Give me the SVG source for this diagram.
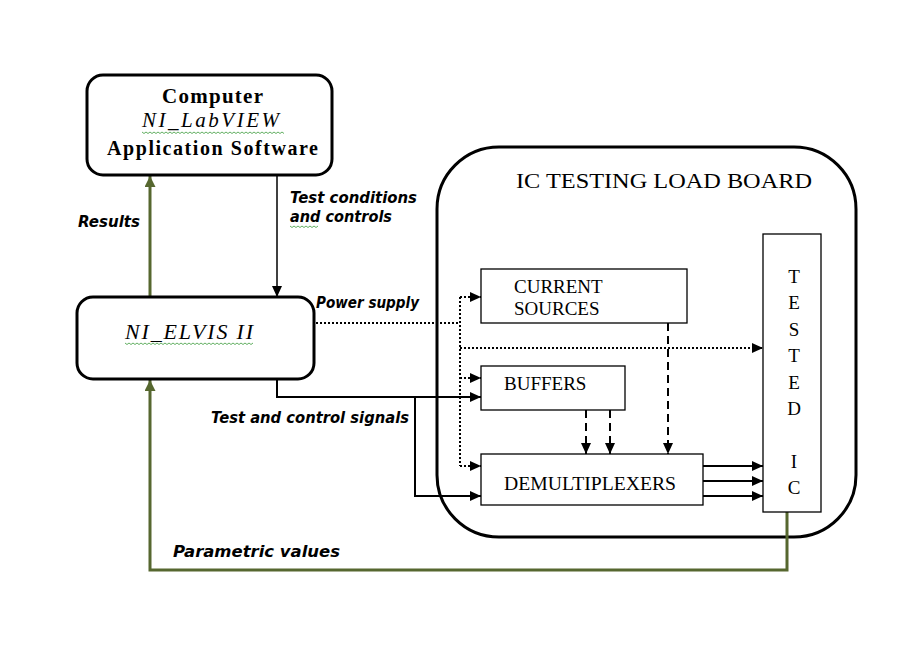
<svg xmlns="http://www.w3.org/2000/svg" width="903" height="652" viewBox="0 0 903 652">
<style>
.box{fill:#fff;stroke:#000;stroke-width:3}
.rect{fill:#fff;stroke:#000;stroke-width:1.3}
.serif{font-family:"Liberation Serif","Times New Roman",serif;fill:#000}
.lbl{font-family:"DejaVu Sans",Verdana,sans-serif;font-weight:bold;font-style:italic;fill:#000}
.solid{fill:none;stroke:#000;stroke-width:2}
.thin{fill:none;stroke:#000;stroke-width:1.5}
.dot{fill:none;stroke:#000;stroke-width:2;stroke-dasharray:2 2}
.dash{fill:none;stroke:#000;stroke-width:2;stroke-dasharray:8 5}
.green{fill:none;stroke:#56672f;stroke-width:3}
.sq{fill:none;stroke:#3a9a3a;stroke-width:0.8}
</style>
<defs>
<marker id="ab" markerUnits="userSpaceOnUse" markerWidth="11" markerHeight="10" refX="11" refY="5" orient="auto"><path d="M0,0 L11,5 L0,10 z" fill="#000"/></marker>
<marker id="ag" markerUnits="userSpaceOnUse" markerWidth="11" markerHeight="11" refX="11" refY="5.5" orient="auto"><path d="M0,0 L11,5.5 L0,11 z" fill="#56672f"/></marker>
</defs>
<rect width="903" height="652" fill="#fff"/>

<g id="load-board">
<rect x="437" y="147" width="419" height="390" rx="62" ry="62" fill="#fff" stroke="#000" stroke-width="3"/>
<text class="serif" x="516" y="188" font-size="21" textLength="296" lengthAdjust="spacingAndGlyphs">IC TESTING LOAD BOARD</text>
</g>

<g id="connectors">
<path class="green" d="M150,297 L150,176" marker-end="url(#ag)"/>
<path class="thin" d="M277,175 L277,297" marker-end="url(#ab)"/>
<path class="dot" d="M316,323 L460,323"/>
<path class="dot" d="M460,297 L460,466"/>
<path class="dot" d="M460,297 L481,297" marker-end="url(#ab)"/>
<path class="dot" d="M460,348 L763,348" marker-end="url(#ab)"/>
<path class="dot" d="M460,378 L481,378" marker-end="url(#ab)"/>
<path class="dot" d="M460,466 L481,466" marker-end="url(#ab)"/>
<path class="solid" d="M277,379 L277,397 L481,397" marker-end="url(#ab)"/>
<path class="solid" d="M415,397 L415,496 L481,496" marker-end="url(#ab)"/>
<path class="dash" d="M668,323 L668,454" marker-end="url(#ab)"/>
<path class="dash" d="M586,410 L586,454" marker-end="url(#ab)"/>
<path class="dash" d="M610,410 L610,454" marker-end="url(#ab)"/>
<path class="solid" d="M703,466 L763,466" marker-end="url(#ab)"/>
<path class="solid" d="M703,481 L763,481" marker-end="url(#ab)"/>
<path class="solid" d="M703,496 L763,496" marker-end="url(#ab)"/>
<path class="green" d="M787,512 L787,570 L150,570 L150,380" marker-end="url(#ag)"/>
<text class="lbl" x="78" y="227" font-size="15" textLength="62" lengthAdjust="spacingAndGlyphs">Results</text>
<text class="lbl" x="290" y="203" font-size="15" textLength="127" lengthAdjust="spacingAndGlyphs">Test conditions</text>
<text class="lbl" x="290" y="222" font-size="15" textLength="102" lengthAdjust="spacingAndGlyphs">and controls</text>
<path class="sq" d="M290,226 l2,1.5 l2,-1.5 l2,1.5 l2,-1.5 l2,1.5 l2,-1.5 l2,1.5 l2,-1.5 l2,1.5 l2,-1.5 l2,1.5 l2,-1.5 l2,1.5 l2,-1.5"/>
<text class="lbl" x="316" y="308" font-size="15" textLength="103" lengthAdjust="spacingAndGlyphs">Power supply</text>
<text class="lbl" x="211" y="423" font-size="15" textLength="198" lengthAdjust="spacingAndGlyphs">Test and control signals</text>
<text class="lbl" x="173" y="557" font-size="16" textLength="167" lengthAdjust="spacingAndGlyphs">Parametric values</text>
</g>

<g id="computer">
<rect class="box" x="87" y="75" width="245" height="100" rx="16" ry="16"/>
<text class="serif" x="162" y="103" font-size="21" font-weight="bold" textLength="101" lengthAdjust="spacing">Computer</text>
<text class="serif" x="142" y="127" font-size="21" font-style="italic" textLength="137" lengthAdjust="spacing">NI_LabVIEW</text>
<path class="sq" d="M142,132 l2,1.5 l2,-1.5 l2,1.5 l2,-1.5 l2,1.5 l2,-1.5 l2,1.5 l2,-1.5 l2,1.5 l2,-1.5 l2,1.5 l2,-1.5 l2,1.5 l2,-1.5 l2,1.5 l2,-1.5 l2,1.5 l2,-1.5 l2,1.5 l2,-1.5 l2,1.5 l2,-1.5 l2,1.5 l2,-1.5 l2,1.5 l2,-1.5 l2,1.5 l2,-1.5 l2,1.5 l2,-1.5 l2,1.5 l2,-1.5 l2,1.5 l2,-1.5 l2,1.5 l2,-1.5 l2,1.5 l2,-1.5 l2,1.5 l2,-1.5 l2,1.5 l2,-1.5 l2,1.5 l2,-1.5 l2,1.5 l2,-1.5 l2,1.5 l2,-1.5 l2,1.5 l2,-1.5 l2,1.5 l2,-1.5 l2,1.5 l2,-1.5 l2,1.5 l2,-1.5 l2,1.5 l2,-1.5 l2,1.5 l2,-1.5 l2,1.5 l2,-1.5 l2,1.5 l2,-1.5 l2,1.5 l2,-1.5 l2,1.5 l2,-1.5 l2,1.5 l2,-1.5 l2,1.5"/>
<text class="serif" x="107" y="155" font-size="20" font-weight="bold" textLength="211" lengthAdjust="spacing">Application Software</text>
</g>

<g id="ni-elvis">
<rect class="box" x="77" y="297" width="237" height="82" rx="16" ry="16"/>
<text class="serif" x="125" y="339" font-size="22" font-style="italic" textLength="128" lengthAdjust="spacing">NI_ELVIS II</text>
<path class="sq" d="M125,343 l2,1.5 l2,-1.5 l2,1.5 l2,-1.5 l2,1.5 l2,-1.5 l2,1.5 l2,-1.5 l2,1.5 l2,-1.5 l2,1.5 l2,-1.5 l2,1.5 l2,-1.5 l2,1.5 l2,-1.5 l2,1.5 l2,-1.5 l2,1.5 l2,-1.5 l2,1.5 l2,-1.5 l2,1.5 l2,-1.5 l2,1.5 l2,-1.5 l2,1.5 l2,-1.5 l2,1.5 l2,-1.5 l2,1.5 l2,-1.5 l2,1.5 l2,-1.5 l2,1.5 l2,-1.5 l2,1.5 l2,-1.5 l2,1.5 l2,-1.5 l2,1.5 l2,-1.5 l2,1.5 l2,-1.5 l2,1.5 l2,-1.5 l2,1.5 l2,-1.5 l2,1.5 l2,-1.5 l2,1.5 l2,-1.5 l2,1.5 l2,-1.5 l2,1.5 l2,-1.5 l2,1.5 l2,-1.5 l2,1.5 l2,-1.5 l2,1.5 l2,-1.5 l2,1.5 l2,-1.5"/>
</g>

<g id="current-sources">
<rect class="rect" x="481" y="269" width="206" height="54"/>
<text class="serif" x="514" y="293" font-size="19">CURRENT</text>
<text class="serif" x="514" y="315" font-size="19">SOURCES</text>
</g>

<g id="buffers">
<rect class="rect" x="481" y="366" width="144" height="44"/>
<text class="serif" x="504" y="390" font-size="19">BUFFERS</text>
</g>

<g id="demultiplexers">
<rect class="rect" x="481" y="454" width="222" height="51"/>
<text class="serif" x="504" y="490" font-size="19" textLength="172" lengthAdjust="spacingAndGlyphs">DEMULTIPLEXERS</text>
</g>

<g id="tested-ic">
<rect class="rect" x="763" y="234" width="58" height="278"/>
<g class="serif" font-size="19" text-anchor="middle">
<text x="794" y="283">T</text>
<text x="794" y="309">E</text>
<text x="794" y="336">S</text>
<text x="794" y="362">T</text>
<text x="794" y="389">E</text>
<text x="794" y="415">D</text>
<text x="794" y="468">I</text>
<text x="794" y="494">C</text>
</g>
</g>
</svg>
